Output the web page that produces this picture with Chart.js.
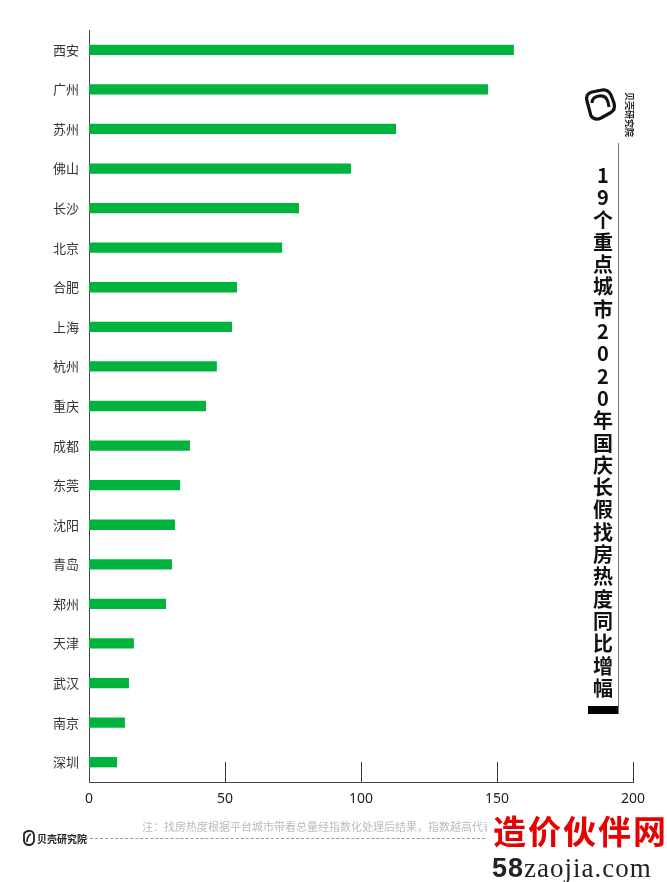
<!DOCTYPE html>
<html>
<head>
<meta charset="utf-8">
<script src="https://cdn.jsdelivr.net/npm/chart.js@4/dist/chart.umd.min.js"></script>
<style>
  body { margin: 0; background: #fff; font-family: "Noto Sans CJK SC", "Noto Sans", sans-serif; }
  #wrap { position: relative; width: 667px; height: 882px; overflow: hidden; }
  #chart { position: absolute; left: 0; top: 0; }
  .title { position: absolute; left: 588px; top: 164px; width: 30px; display: flex; flex-direction: column; align-items: center; }
  .title span { display: block; height: 22.3px; line-height: 22.3px; font-size: 20px; font-weight: bold; color: #111; }
  .vline { position: absolute; left: 618px; top: 143px; width: 1px; height: 571px; background: #777; }
  .blk { position: absolute; left: 588px; top: 706px; width: 30px; height: 8px; background: #000; }
  .brand-v { position: absolute; left: 604px; top: 108px; width: 50px; font-size: 9px; font-weight: bold; color: #222; transform: rotate(90deg); text-align: center; }
  .note { position: absolute; left: 142px; top: 818px; font-size: 11px; color: #bbb; white-space: nowrap; }
  .foot-brand { position: absolute; left: 37px; top: 831px; font-size: 10px; font-weight: bold; color: #222; }
  .dash { position: absolute; left: 80px; top: 838px; width: 410px; border-top: 1px dashed #999; }
  .wm { position: absolute; left: 487px; top: 810px; width: 180px; height: 72px; background: #fff; }
  .wm1 { position: absolute; left: 6px; top: 0px; font-size: 33px; color: #e60000; font-weight: bold; letter-spacing: 2px; white-space: nowrap; line-height: 40px; }
  .wm2 { position: absolute; left: 5px; top: 43px; font-size: 27px; color: #222; white-space: nowrap; font-family: "Liberation Serif", serif; line-height: 30px; letter-spacing: 1px; }
  .wm2 b { font-family: "Liberation Sans", sans-serif; }
</style>
</head>
<body>
<div id="wrap">
  <canvas id="chart" width="667" height="882"></canvas>

  <svg style="position:absolute;left:580px;top:86px" width="38" height="38" viewBox="0 0 38 38">
    <path d="M7 15 Q5 8 12 6 L22 4 Q28 3 31 9 L34 17 Q36 24 30 27 L21 32 Q15 35 11 30 Z" fill="none" stroke="#111" stroke-width="3.2" stroke-linejoin="round"/>
    <path d="M12 17 Q12 11 19 10 Q26 9 28 16 L29 21" fill="none" stroke="#111" stroke-width="3"/>
  </svg>
  <div class="brand-v">贝壳研究院</div>

  <div class="vline"></div>
  <div class="title" id="title"></div>
  <div class="blk"></div>

  <div class="note">注：找房热度根据平台城市带看总量经指数化处理后结果，指数越高代表热度越高</div>
  <svg style="position:absolute;left:21px;top:829px" width="16" height="18" viewBox="0 0 16 18">
    <path d="M3 8 Q2 3 7 2 Q12 1 13 6 L13 12 Q12 16 8 16 Q4 16 3 12 Z" fill="none" stroke="#222" stroke-width="1.8"/>
    <path d="M6 13 Q6 7 10 5" fill="none" stroke="#222" stroke-width="1.6"/>
  </svg>
  <div class="foot-brand">贝壳研究院</div>
  <div class="dash"></div>

  <div class="wm">
    <div class="wm1">造价伙伴网</div>
    <div class="wm2"><b>58</b>zaojia.com</div>
  </div>
</div>

<script>
const cities = ['西安', '广州', '苏州', '佛山', '长沙', '北京', '合肥', '上海', '杭州', '重庆',
                '成都', '东莞', '沈阳', '青岛', '郑州', '天津', '武汉', '南京', '深圳'];
const heat = [156.2, 146.7, 112.9, 96.3, 77.2, 71.0, 54.4, 52.6, 47.0, 43.0,
              37.1, 33.5, 31.6, 30.5, 28.3, 16.5, 14.7, 13.2, 10.3];
const xTicks = [0, 50, 100, 150, 200];
const titleText = '19个重点城市2020年国庆长假找房热度同比增幅';

// vertical title, one char per row
const t = document.getElementById('title');
for (const ch of titleText) {
  const s = document.createElement('span');
  s.textContent = ch;
  t.appendChild(s);
}

// short tick marks pointing up from the x axis
const innerTicks = {
  id: 'innerTicks',
  afterDraw(chart) {
    const ctx = chart.ctx;
    const x = chart.scales.x;
    const bottom = chart.chartArea.bottom;
    ctx.save();
    ctx.strokeStyle = '#333';
    ctx.lineWidth = 1;
    xTicks.forEach(function(v) {
      if (v === 0) return;
      const px = Math.round(x.getPixelForValue(v)) + 0.5;
      ctx.beginPath();
      ctx.moveTo(px, bottom);
      ctx.lineTo(px, bottom - 20);
      ctx.stroke();
    });
    ctx.restore();
  }
};

const ctx = document.getElementById('chart').getContext('2d');
new Chart(ctx, {
  type: 'bar',
  data: {
    labels: cities,
    datasets: [{
      data: heat,
      backgroundColor: '#00b33c',
      barPercentage: 0.26,
      categoryPercentage: 1
    }]
  },
  options: {
    indexAxis: 'y',
    responsive: false,
    animation: false,
    layout: { padding: { top: 30, right: 34, bottom: 70, left: 0 } },
    plugins: { legend: { display: false }, tooltip: { enabled: false } },
    scales: {
      x: {
        min: 0,
        max: 200,
        afterBuildTicks: function(scale) {
          scale.ticks = xTicks.map(function(v) { return { value: v }; });
        },
        afterFit: function(scale) { scale.height = 30; },
        grid: { display: false, drawTicks: false },
        border: { display: true, color: '#444', width: 1 },
        ticks: { padding: 9, color: '#222', font: { size: 14, family: 'Noto Sans, sans-serif' } }
      },
      y: {
        afterFit: function(scale) { scale.width = 89; },
        grid: { display: false, drawTicks: false },
        border: { display: true, color: '#444', width: 1 },
        ticks: { padding: 10, color: '#333', font: { size: 13, family: 'Noto Sans CJK SC' } }
      }
    }
  },
  plugins: [innerTicks]
});
</script>
</body>
</html>
